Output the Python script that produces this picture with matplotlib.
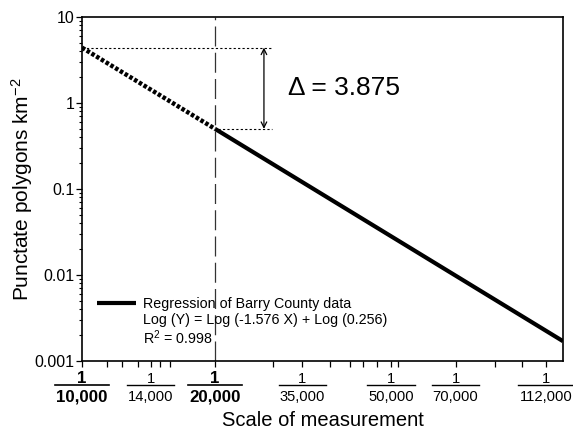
import matplotlib
matplotlib.use('Agg')
import matplotlib.pyplot as plt
from matplotlib.lines import Line2D
from matplotlib.ticker import FixedLocator, NullFormatter, LogLocator, FuncFormatter
from matplotlib.transforms import IdentityTransform

plt.rcParams['font.family'] = ['Liberation Sans', 'DejaVu Sans']
plt.rcParams['mathtext.fontset'] = 'custom'
plt.rcParams['mathtext.rm'] = 'Liberation Sans'
plt.rcParams['mathtext.it'] = 'Liberation Sans:italic'
plt.rcParams['mathtext.bf'] = 'Liberation Sans:bold'

# map scales 1 : N shown on the x axis
scale_den = [10000, 14000, 20000, 35000, 50000, 70000, 112000]
# where each fraction sits on the axis (35,000 is drawn left of its true place)
label_at = [10000, 14300, 20000, 31500, 50000, 70000, 112000]
bold_den = [10000, 20000]
minor_at = [11400, 12300, 13400, 15000, 15800, 27000, 36400, 40400,
            43200, 46500, 51900, 86000, 99000]

# regression of Barry County data, extrapolated part and fitted part
extrap_x = [10000, 20000]
extrap_y = [4.4, 0.5]
fit_x = [20000, 122500]
fit_y = [0.5, 0.0017]

delta_hi = 4.4
delta_lo = 0.5
delta_txt = 'Δ = 3.875'

legend_lines = ['Regression of Barry County data',
                'Log (Y) = Log (-1.576 X) + Log (0.256)',
                'R$^2$ = 0.998']

fig = plt.figure(figsize=(5.73, 4.30), dpi=100)
ax = fig.add_axes([0.1431, 0.1605, 0.8394, 0.80])
ax.set_xscale('log')
ax.set_yscale('log')
ax.set_xlim(10000, 122500)
ax.set_ylim(0.001, 10)

# reference scale 1:20,000
ax.axvline(20000, color='#333333', lw=0.9, dashes=(16, 5), zorder=1)

ax.plot(extrap_x, extrap_y, color='black', lw=3.2, dashes=(0.8, 0.45),
        dash_capstyle='butt', solid_capstyle='butt', zorder=3)
fit_line, = ax.plot(fit_x, fit_y, color='black', lw=3.0, solid_capstyle='butt', zorder=3)

# delta bracket
ax.hlines(delta_hi, 10000, 26900, color='black', lw=0.8, linestyles=(0, (2, 2)))
ax.hlines(delta_lo, 20300, 26900, color='black', lw=0.8, linestyles=(0, (2, 2)))
ax.annotate('', xy=(25800, delta_lo), xytext=(25800, delta_hi),
            arrowprops=dict(arrowstyle='<->', lw=0.9, color='black',
                            shrinkA=0, shrinkB=0, mutation_scale=10))
ax.text(29250, 1.5, delta_txt, fontsize=19, ha='left', va='center')

# axes styling
for sp in ax.spines.values():
    sp.set_linewidth(1.2)
ax.xaxis.set_major_locator(FixedLocator(label_at))
ax.xaxis.set_minor_locator(FixedLocator(minor_at))
ax.xaxis.set_major_formatter(NullFormatter())
ax.xaxis.set_minor_formatter(NullFormatter())
ax.tick_params(axis='x', which='both', direction='out', length=4, width=0.9)

ax.yaxis.set_major_locator(LogLocator(base=10))
ax.yaxis.set_minor_locator(LogLocator(base=10, subs=range(2, 10)))
ax.yaxis.set_major_formatter(FuncFormatter(lambda v, p: f'{v:g}'))
ax.yaxis.set_minor_formatter(NullFormatter())
ax.tick_params(axis='y', which='major', direction='out', length=4, width=0.9,
               pad=1.5, labelsize=11.5)
ax.tick_params(axis='y', which='minor', direction='out', length=2.5, width=0.8)

ax.set_ylabel('Punctate polygons km$^{-2}$', fontsize=15)
ax.yaxis.set_label_coords(-0.097, 0.5)
ax.set_xlabel('Scale of measurement', fontsize=14.5, va='top')
ax.xaxis.set_label_coords(0.5, -0.145)

# fraction tick labels 1/N
dens = []
for pos, den in zip(label_at, scale_den):
    bold = den in bold_den
    fs = 12.2 if bold else 10.6
    w = 'bold' if bold else 'normal'
    ax.annotate('1', xy=(pos, 0), xycoords=('data', 'axes fraction'),
                xytext=(0, -15.8), textcoords='offset points',
                ha='center', va='baseline', fontsize=fs, fontweight=w)
    t = ax.annotate(f'{den:,}', xy=(pos, 0), xycoords=('data', 'axes fraction'),
                    xytext=(0, -28.6 if not bold else -29.3), textcoords='offset points',
                    ha='center', va='baseline', fontsize=fs, fontweight=w)
    dens.append((t, bold))

blank = Line2D([], [], linestyle='none')
ax.legend([fit_line, blank, blank], legend_lines, loc='upper left',
          bbox_to_anchor=(0.031, 0.185), frameon=False, fontsize=10.3,
          handlelength=2.7, handletextpad=0.55, labelspacing=0.1,
          borderpad=0, borderaxespad=0)

fig.canvas.draw()
y0 = ax.transAxes.transform((0, 0))[1]
for t, bold in dens:
    bb = t.get_window_extent()
    fig.add_artist(Line2D([bb.x0 - 1, bb.x1 + 1], [y0 - 24, y0 - 24],
                          transform=IdentityTransform(), color='black',
                          lw=1.2 if bold else 1.0))

fig.savefig('out.png', dpi=100)
